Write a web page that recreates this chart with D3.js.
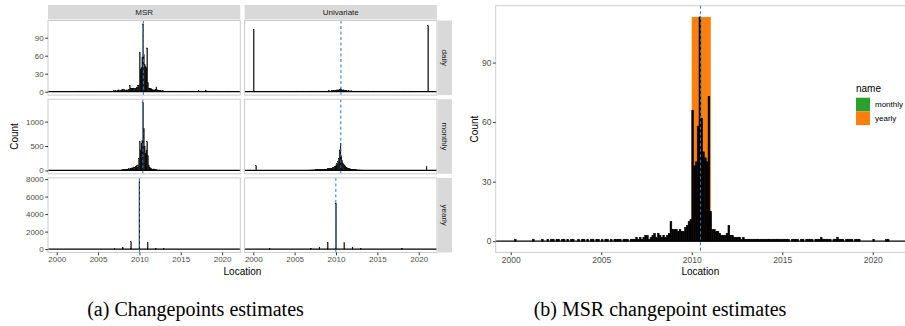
<!DOCTYPE html>
<html><head><meta charset="utf-8">
<script src="https://cdn.jsdelivr.net/npm/d3@7"></script>
<style>body{margin:0;background:#fff;} svg{display:block}</style>
</head><body>
<svg id="c" width="905" height="326"></svg>
<script>
// ---------------- DATA ----------------
const methods = ["MSR", "Univariate"];
const resolutions = ["daily", "monthly", "yearly"];
const binWidth = 0.1;

// daily changepoint location counts, 0.1-year bins starting 2000.0
const msrDailyStart = 2000;
const msrDaily = [
  0,0,1,0,0,0,0,0,0,0,
  0,0,1,0,0,0,0,1,0,0,
  1,0,1,1,0,1,1,0,1,1,
  0,1,0,1,1,0,0,1,0,1,
  1,0,1,0,1,1,0,1,1,0,
  1,0,1,1,0,1,0,1,1,1,
  1,0,1,1,1,0,1,1,1,2,
  1,2,1,2,3,3,1,2,3,4,
  2,4,3,2,3,2,3,4,10,6,
  6,6,5,6,5,5,7,8,10,11,
  66,38,40,58,113,62,45,42,40,73,
  15,6,6,5,5,4,3,3,3,4,
  8,3,3,2,2,2,2,1,2,1,
  1,1,1,1,1,1,1,1,1,1,
  1,1,1,1,1,1,1,1,1,1,
  1,1,1,1,0,1,1,1,1,0,
  1,1,0,1,1,1,1,0,1,1,
  1,2,1,1,1,1,1,0,1,1,
  2,1,1,1,0,1,1,1,1,0,
  1,1,1,0,0,0,0,0,0,0,
  1,0,0,0,0,0,0,1,1,0,
  0,0,0,0,0
];
const uniDailyStart = 2000;
const uniDaily = [
  104,0,0,0,0,0,0,0,0,0,
  1,0,0,0,0,0,0,1,0,0,
  0,0,1,0,0,0,0,0,0,1,
  0,0,0,1,0,0,0,0,1,0,
  0,1,0,0,0,1,0,0,0,0,
  0,0,1,0,0,0,1,0,0,1,
  0,1,0,0,1,0,0,1,0,1,
  1,0,1,0,1,1,0,1,1,0,
  1,1,1,0,1,1,1,1,1,1,
  1,2,1,1,2,1,2,2,2,2,
  2,3,3,3,4,5,4,3,3,3,
  2,2,2,2,1,2,1,1,2,1,
  1,1,1,1,0,1,1,1,0,1,
  1,0,1,1,0,1,0,1,0,1,
  0,1,0,0,1,0,1,0,0,1,
  0,1,0,0,0,1,0,0,1,0,
  1,0,0,1,0,0,0,1,0,0,
  0,0,1,0,0,0,1,0,0,0,
  0,0,1,0,0,0,0,0,1,0,
  0,0,0,1,0,0,0,0,0,1,
  0,0,0,0,1,0,0,0,0,0,
  0,110
];

// monthly counts, 0.1-year bins
const msrMonthlyStart = 2007;
const msrMonthly = [
  0,0,0,0,0,5,0,0,10,15,
  10,15,20,15,25,30,20,35,30,45,
  40,55,50,70,60,80,95,70,110,250,
  600,420,560,620,1390,860,500,350,420,590,
  300,110,60,50,40,30,25,30,20,15,
  15,10,10,5,10,5,5,0,5,5
];
const uniMonthlyStart = 2005;
const uniMonthly = [
  2,1,3,2,3,2,3,4,3,4,
  4,5,4,6,5,6,7,6,8,8,
  9,8,10,11,10,12,12,14,13,15,
  16,15,18,19,18,22,23,25,27,30,
  32,34,36,40,44,48,55,62,75,92,
  118,142,180,245,420,555,300,205,150,122,
  100,82,66,55,46,38,34,28,25,21,
  19,18,15,14,12,11,10,9,9,8,
  7,7,6,6,5,5,5,4,4,4,
  4,3,3,3,3,2,2,2,2,2,
  2,2,1,1,1,1,1,1,1,1
];
const uniMonthlySpikeYears = [2000.3, 2020.9];
const uniMonthlySpikeCounts = [94, 73];

// yearly counts at whole years
const msrYearlyYears  = [2007, 2008, 2009, 2010, 2011, 2012, 2013];
const msrYearlyCounts = [30, 200, 830, 7750, 740, 110, 30];
const uniYearlyYears  = [2002, 2007, 2008, 2009, 2010, 2011, 2012, 2013, 2018];
const uniYearlyCounts = [100, 90, 230, 760, 5250, 760, 230, 60, 110];

// changepoint estimates (dashed lines)
const msrEstimates = [2010.48, 2010.42, 2010.0];
const uniEstimates = [2010.6, 2010.58, 2009.98];

// right panel intervals
const intervalNames = ["monthly", "yearly"];
const intervalStart = [2010.42, 2010.0];
const intervalEnd   = [2010.52, 2011.05];
const intervalColors = ["#2ca02c", "#ff7f0e"];

const xTicks = [2000, 2005, 2010, 2015, 2020];
const yTicksRows = [[0, 30, 60, 90], [0, 500, 1000], [0, 2000, 4000, 6000, 8000]];
const yTicksRight = [0, 30, 60, 90];
const captions = ["(a) Changepoints estimates", "(b) MSR changepoint estimates"];

// ---------------- HELPERS ----------------
function denseBins(start, counts) {
  return counts.map((v, i) => ({x0: start + i * binWidth, x1: start + (i + 1) * binWidth, v}))
               .filter(d => d.v > 0);
}
function pointBins(years, counts) {
  return years.map((y, i) => ({x0: y - binWidth / 2, x1: y + binWidth / 2, v: counts[i]}));
}

const grid = [
  [denseBins(msrDailyStart, msrDaily), denseBins(uniDailyStart, uniDaily)],
  [denseBins(msrMonthlyStart, msrMonthly),
   denseBins(uniMonthlyStart, uniMonthly).concat(
     uniMonthlySpikeYears.map((y, i) => ({x0: y, x1: y + binWidth, v: uniMonthlySpikeCounts[i]})))],
  [pointBins(msrYearlyYears, msrYearlyCounts), pointBins(uniYearlyYears, uniYearlyCounts)]
];
const estimates = [msrEstimates, uniEstimates];

const svg = d3.select("#c");
const sans = "'Liberation Sans', Arial, Helvetica, sans-serif";
const tickCol = "#4d4d4d", axisCol = "#333333", borderCol = "#cccccc", stripFill = "#d9d9d9";
const dashCol = "#2a7ab9";
const fmt = d3.format("d");

// ---------------- LEFT GRID ----------------
const colX = [48, 244.6], panelW = 192.3;
const rowY = [20.5, 99.2, 177.9], panelH = 74.6;
const xL = d3.scaleLinear().domain([1998.95, 2022.2]);

resolutions.forEach((res, r) => {
  const M = d3.max(grid[r].flat(), d => d.v);
  const y = d3.scaleLinear().domain([-0.05 * M, 1.05 * M]).range([rowY[r] + panelH, rowY[r]]);
  methods.forEach((m, c) => {
    const x = xL.copy().range([colX[c], colX[c] + panelW]);
    const g = svg.append("g");
    g.append("rect").attr("x", colX[c]).attr("y", rowY[r]).attr("width", panelW).attr("height", panelH)
      .attr("fill", "#fff");
    g.selectAll("rect.bar").data(grid[r][c]).join("rect").attr("class", "bar")
      .attr("x", d => x(d.x0)).attr("width", d => Math.max(0.6, x(d.x1) - x(d.x0)))
      .attr("y", d => y(d.v)).attr("height", d => y(0) - y(d.v))
      .attr("fill", "#000").attr("stroke", "#000").attr("stroke-width", 0.3);
    g.append("line").attr("x1", colX[c]).attr("x2", colX[c] + panelW).attr("y1", y(0)).attr("y2", y(0))
      .attr("stroke", "#000").attr("stroke-width", 1.2);
    g.append("line").attr("x1", x(estimates[c][r])).attr("x2", x(estimates[c][r]))
      .attr("y1", rowY[r]).attr("y2", rowY[r] + panelH)
      .attr("stroke", dashCol).attr("stroke-width", 1).attr("stroke-dasharray", "3,2.5");
    g.append("rect").attr("x", colX[c]).attr("y", rowY[r]).attr("width", panelW).attr("height", panelH)
      .attr("fill", "none").attr("stroke", borderCol).attr("stroke-width", 1);
    if (r === 2) {
      const ax = svg.append("g").attr("transform", `translate(0,${rowY[r] + panelH})`)
        .call(d3.axisBottom(x).tickValues(xTicks).tickFormat(fmt).tickSize(2.75).tickPadding(1.5));
      ax.select(".domain").remove();
      ax.selectAll("line").attr("stroke", axisCol);
      ax.selectAll("text").attr("fill", tickCol).style("font", `8px ${sans}`);
    }
    if (c === 0) {
      const ay = svg.append("g").attr("transform", `translate(${colX[0]},0)`)
        .call(d3.axisLeft(y).tickValues(yTicksRows[r]).tickFormat(fmt).tickSize(2.75).tickPadding(1.5));
      ay.select(".domain").remove();
      ay.selectAll("line").attr("stroke", axisCol);
      ay.selectAll("text").attr("fill", tickCol).style("font", `8px ${sans}`);
    }
  });
  const sx = colX[1] + panelW + 0.6, sw = 14.5;
  svg.append("rect").attr("x", sx).attr("y", rowY[r]).attr("width", sw).attr("height", panelH).attr("fill", stripFill);
  svg.append("text").attr("transform", `translate(${sx + sw / 2},${rowY[r] + panelH / 2}) rotate(90)`)
    .attr("text-anchor", "middle").attr("dy", "0.35em").attr("fill", "#1a1a1a")
    .style("font", `8px ${sans}`).text(res);
});
methods.forEach((m, c) => {
  svg.append("rect").attr("x", colX[c]).attr("y", 5).attr("width", panelW).attr("height", 14.5).attr("fill", stripFill);
  svg.append("text").attr("x", colX[c] + panelW / 2).attr("y", 12.25).attr("dy", "0.35em")
    .attr("text-anchor", "middle").attr("fill", "#1a1a1a").style("font", `8px ${sans}`).text(m);
});
svg.append("text").attr("x", (colX[0] + colX[1] + panelW) / 2).attr("y", 275)
  .attr("text-anchor", "middle").attr("fill", "#000").style("font", `10px ${sans}`).text("Location");
svg.append("text").attr("transform", `translate(18,${(rowY[0] + rowY[2] + panelH) / 2}) rotate(-90)`)
  .attr("text-anchor", "middle").attr("fill", "#000").style("font", `10px ${sans}`).text("Count");

// ---------------- RIGHT PANEL ----------------
const RX0 = 495.7, RX1 = 906, RY0 = 5.7, RY1 = 252.4;
const xR = d3.scaleLinear().domain([1999.17, 2021.78]).range([RX0, RX1 - 1]);
const rightBins = denseBins(msrDailyStart, msrDaily);
const MR = d3.max(msrDaily);
const yR = d3.scaleLinear().domain([-0.05 * MR, 1.05 * MR]).range([RY1, RY0]);
const gr = svg.append("g");
gr.append("rect").attr("x", RX0).attr("y", RY0).attr("width", RX1 - RX0).attr("height", RY1 - RY0).attr("fill", "#fff");
[1, 0].forEach(i => {
  gr.append("rect").attr("x", xR(intervalStart[i])).attr("width", xR(intervalEnd[i]) - xR(intervalStart[i]))
    .attr("y", yR(MR)).attr("height", yR(0) - yR(MR)).attr("fill", intervalColors[i]);
});
gr.selectAll("rect.bar").data(rightBins).join("rect").attr("class", "bar")
  .attr("x", d => xR(d.x0)).attr("width", d => xR(d.x1) - xR(d.x0))
  .attr("y", d => yR(d.v)).attr("height", d => yR(0) - yR(d.v))
  .attr("fill", "#000").attr("stroke", "#000").attr("stroke-width", 0.5);
gr.append("line").attr("x1", RX0).attr("x2", RX1).attr("y1", yR(0)).attr("y2", yR(0))
  .attr("stroke", "#000").attr("stroke-width", 1.2);
gr.append("line").attr("x1", xR(msrEstimates[0])).attr("x2", xR(msrEstimates[0])).attr("y1", RY0).attr("y2", RY1)
  .attr("stroke", dashCol).attr("stroke-width", 1).attr("stroke-dasharray", "3,2.5");
gr.append("rect").attr("x", RX0).attr("y", RY0).attr("width", RX1 - RX0).attr("height", RY1 - RY0)
  .attr("fill", "none").attr("stroke", borderCol).attr("stroke-width", 1);
const axR = svg.append("g").attr("transform", `translate(0,${RY1})`)
  .call(d3.axisBottom(xR).tickValues(xTicks).tickFormat(fmt).tickSize(2.75).tickPadding(1.5));
axR.select(".domain").remove();
axR.selectAll("line").attr("stroke", axisCol);
axR.selectAll("text").attr("fill", tickCol).style("font", `8.5px ${sans}`);
const ayR = svg.append("g").attr("transform", `translate(${RX0},0)`)
  .call(d3.axisLeft(yR).tickValues(yTicksRight).tickFormat(fmt).tickSize(2.75).tickPadding(1.5));
ayR.select(".domain").remove();
ayR.selectAll("line").attr("stroke", axisCol);
ayR.selectAll("text").attr("fill", tickCol).style("font", `8.5px ${sans}`);
svg.append("text").attr("x", (RX0 + 905) / 2).attr("y", 275).attr("text-anchor", "middle")
  .attr("fill", "#000").style("font", `10px ${sans}`).text("Location");
svg.append("text").attr("transform", `translate(478,${(RY0 + RY1) / 2}) rotate(-90)`)
  .attr("text-anchor", "middle").attr("fill", "#000").style("font", `10px ${sans}`).text("Count");

// legend
const lg = svg.append("g");
lg.append("text").attr("x", 856).attr("y", 91.5).attr("fill", "#000").style("font", `10px ${sans}`).text("name");
intervalNames.forEach((n, i) => {
  lg.append("rect").attr("x", 856).attr("y", 97.7 + i * 13.7).attr("width", 14).attr("height", 13.7).attr("fill", intervalColors[i]);
  lg.append("text").attr("x", 875).attr("y", 97.7 + i * 13.7 + 6.85).attr("dy", "0.35em")
    .attr("fill", "#000").style("font", `8px ${sans}`).text(n);
});

// captions
const serif = "'Liberation Serif', 'Times New Roman', serif";
[195.5, 660].forEach((cx, i) => {
  svg.append("text").attr("x", cx).attr("y", 316).attr("text-anchor", "middle").attr("fill", "#000")
    .style("font", `20px ${serif}`).text(captions[i]);
});
</script>
</body></html>
